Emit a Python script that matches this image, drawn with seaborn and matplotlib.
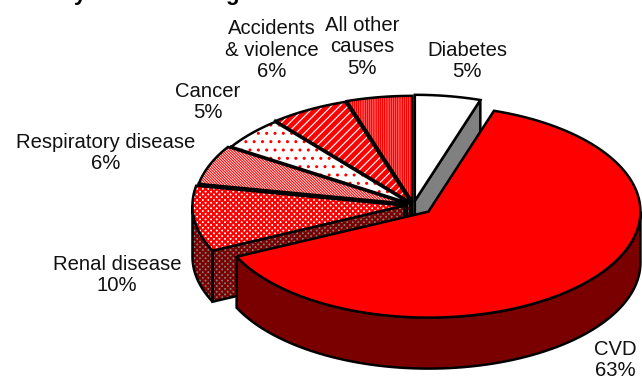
import numpy as np
import matplotlib
matplotlib.use("Agg")
import matplotlib.pyplot as plt
from matplotlib.patches import Polygon
import seaborn as sns

# Causes of death, in percent, clockwise from twelve o'clock
causes = ["Diabetes", "CVD", "Renal disease", "Respiratory disease",
          "Cancer", "Accidents\n& violence", "All other\ncauses"]
shares = [5, 63, 10, 6, 5, 6, 5]

# Pull-out of each slice, as a fraction of the radius
explode = [0.04, 0.094, 0.043, 0.033, 0.02, 0.025, 0.03]

# Slice fills: (top colour, top hatch, hatch width, side colour, side hatch colour)
styles = [
    ("white", None, 1.0, "#808080", None),
    ("#ff0000", None, 1.0, "#7a0000", None),
    ("white", "xxxxxx", 1.5, "#808080", "#7a0000"),
    ("white", "\\" * 12, 0.8, "#808080", "#7a0000"),
    ("white", "..", 1.0, "#808080", "#7a0000"),
    ("white", "////", 3.4, "#808080", "#7a0000"),
    ("white", "|" * 9, 1.1, "#808080", "#7a0000"),
]
hatch_red = "#ff0000"

# Label anchors in figure pixels, one per cause
label_xy = [(467, 61), (615, 360), (117, 275), (106, 153),
            (208, 102), (272, 50), (362, 47)]

CX, CY = 413.5, 205.0   # pie centre
RX, RY = 212.0, 106.0   # radii of the tilted top face
DEPTH = 51.0            # height of the slab
EDGE = 1.8

sns.set_theme(style="white")
plt.rcParams["font.family"] = ["Liberation Sans", "DejaVu Sans"]

fig = plt.figure(figsize=(6.42, 3.85), dpi=100, facecolor="white")
ax = fig.add_axes([0, 0, 1, 1])
ax.set_xlim(0, 642)
ax.set_ylim(385, 0)
ax.axis("off")
sns.despine(ax=ax, left=True, bottom=True)


def project(theta, cx, cy, drop=0.0):
    t = np.radians(theta)
    return np.column_stack([cx + RX * np.sin(t), cy - RY * np.cos(t) + drop])


def face(points, colour, hatch, hatch_width, hatch_colour, z):
    if hatch and hatch_colour:
        with plt.rc_context({"hatch.linewidth": hatch_width}):
            ax.add_patch(Polygon(points, closed=True, facecolor=colour,
                                 edgecolor=hatch_colour, hatch=hatch,
                                 linewidth=0, zorder=z))
    else:
        ax.add_patch(Polygon(points, closed=True, facecolor=colour,
                             edgecolor="none", zorder=z))
    ax.add_patch(Polygon(points, closed=True, fill=False, edgecolor="black",
                         linewidth=EDGE, joinstyle="miter", zorder=z + 0.1))


# Slice limits follow from the shares
bounds = np.concatenate([[0], np.cumsum(shares)]) * 3.6
paint_order = [0, 6, 5, 4, 3, 2, 1]

for rank, i in enumerate(paint_order):
    a0, a1 = bounds[i], bounds[i + 1]
    mid = np.radians((a0 + a1) / 2)
    cx = CX + explode[i] * RX * np.sin(mid)
    cy = CY - explode[i] * RY * np.cos(mid)
    top, hatch, hw, side, side_hatch = styles[i]
    z = 2 + rank
    apex = np.array([[cx, cy]])
    apex_low = np.array([[cx, cy + DEPTH]])

    # Radial side walls that face the viewer
    if np.cos(np.radians(a0 - 90)) < 0:
        e = project(a0, cx, cy)
        e_low = project(a0, cx, cy, DEPTH)
        face(np.vstack([apex, e, e_low, apex_low]), side,
             "xxxxxx" if side_hatch else None, 1.5, side_hatch, z)
    if np.cos(np.radians(a1 + 90)) < 0:
        e = project(a1, cx, cy)
        e_low = project(a1, cx, cy, DEPTH)
        face(np.vstack([apex, e, e_low, apex_low]), side,
             "xxxxxx" if side_hatch else None, 1.5, side_hatch, z)

    # Curved outer wall, only where the rim faces the viewer
    lo, hi = max(a0, 90), min(a1, 270)
    if hi > lo:
        arc = np.linspace(lo, hi, 80)
        wall = np.vstack([project(arc, cx, cy),
                          project(arc[::-1], cx, cy, DEPTH)])
        face(wall, side, "xxxxxx" if side_hatch else None, 1.5, side_hatch, z)

    # Top face
    arc = np.linspace(a0, a1, 120)
    pts = np.vstack([apex, project(arc, cx, cy)])
    face(pts, top, hatch, hw, hatch_red if hatch else None, z + 0.3)

for name, value, (x, y) in zip(causes, shares, label_xy):
    ax.text(x, y, f"{name}\n{value}%", ha="center", va="center", fontsize=14.6,
            color="#111111", linespacing=1.16, zorder=20)

# Descenders of the heading that runs off the top edge
ax.text(80, 0, "y", ha="center", va="baseline", fontsize=16, fontweight="bold",
        color="black", clip_on=True, zorder=20)
ax.text(232, 0, "g", ha="center", va="baseline", fontsize=16, fontweight="bold",
        color="black", clip_on=True, zorder=20)

fig.savefig("out.png", dpi=100, facecolor="white")
